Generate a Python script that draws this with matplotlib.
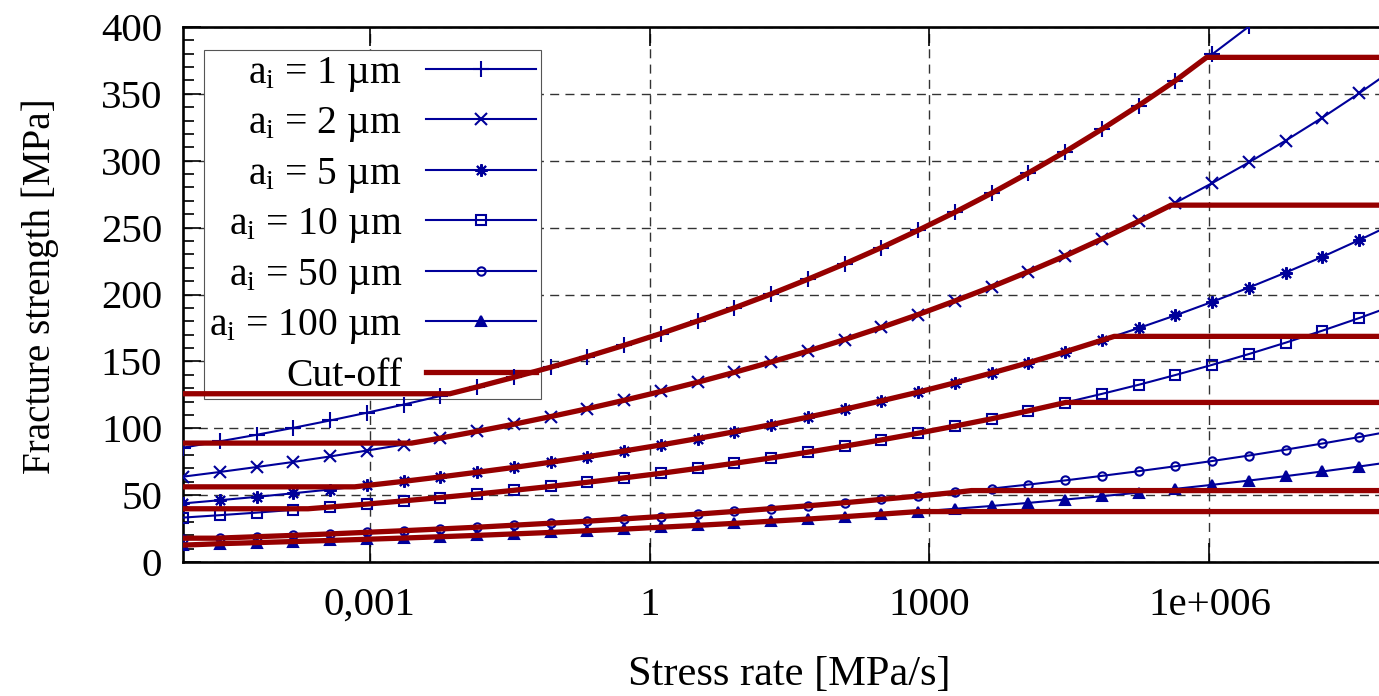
import numpy as np
import matplotlib
matplotlib.use("Agg")
import matplotlib.pyplot as plt
from matplotlib.ticker import FixedLocator, MultipleLocator, NullLocator

plt.rcParams["font.family"] = ["Liberation Serif", "DejaVu Serif"]
plt.rcParams["mathtext.fontset"] = "custom"
plt.rcParams["mathtext.rm"] = "Liberation Serif"
plt.rcParams["mathtext.it"] = "Liberation Serif:italic"
plt.rcParams["font.size"] = 29.5

# log10 of stress rate [MPa/s] at the plotted points
log_rate = [-5.000, -4.606, -4.212, -3.818, -3.424, -3.030, -2.636, -2.242, -1.848, -1.455,
            -1.061, -0.667, -0.273, 0.121, 0.515, 0.909, 1.303, 1.697, 2.091, 2.485,
            2.879, 3.273, 3.667, 4.061, 4.455, 4.848, 5.242, 5.636, 6.030, 6.424,
            6.818, 7.212, 7.606, 8.000]

# fracture strength [MPa] for each initial crack size
s_1um = [85.5, 90.2, 95.1, 100.3, 105.8, 111.6, 117.7, 124.1, 130.9, 138.1,
         145.6, 153.6, 162.0, 170.8, 180.2, 190.0, 200.4, 211.4, 222.9, 235.1,
         248.0, 261.5, 275.8, 290.9, 306.8, 323.6, 341.3, 359.9, 379.6, 400.4]
s_2um = [63.8, 67.3, 71.0, 74.8, 78.9, 83.3, 87.8, 92.6, 97.7, 103.0,
         108.7, 114.6, 120.9, 127.5, 134.4, 141.8, 149.5, 157.7, 166.3, 175.4,
         185.0, 195.2, 205.8, 217.1, 228.9, 241.5, 254.7, 268.6, 283.3, 298.8,
         315.1, 332.3, 350.5, 369.7]
s_5um = [43.8, 46.2, 48.7, 51.4, 54.2, 57.2, 60.3, 63.6, 67.1, 70.7,
         74.6, 78.7, 83.0, 87.5, 92.3, 97.4, 102.7, 108.3, 114.2, 120.5,
         127.0, 134.0, 141.3, 149.0, 157.2, 165.8, 174.9, 184.4, 194.5, 205.2,
         216.4, 228.2, 240.7, 253.8]
s_10um = [33.2, 35.0, 36.9, 39.0, 41.1, 43.3, 45.7, 48.2, 50.8, 53.6,
          56.5, 59.6, 62.9, 66.3, 70.0, 73.8, 77.8, 82.1, 86.6, 91.3,
          96.3, 101.6, 107.1, 113.0, 119.2, 125.7, 132.5, 139.8, 147.4, 155.5,
          164.0, 173.0, 182.4, 192.4]
s_50um = [17.0, 17.9, 18.9, 19.9, 21.0, 22.2, 23.4, 24.7, 26.0, 27.5,
          29.0, 30.5, 32.2, 34.0, 35.8, 37.8, 39.9, 42.0, 44.3, 46.8,
          49.3, 52.0, 54.9, 57.9, 61.0, 64.4, 67.9, 71.6, 75.5, 79.6,
          84.0, 88.6, 93.4, 98.5]
s_100um = [13.0, 13.7, 14.5, 15.3, 16.1, 17.0, 17.9, 18.9, 19.9, 21.0,
           22.1, 23.4, 24.6, 26.0, 27.4, 28.9, 30.5, 32.1, 33.9, 35.8,
           37.7, 39.8, 41.9, 44.2, 46.7, 49.2, 51.9, 54.7, 57.7, 60.9,
           64.2, 67.7, 71.4, 75.3]

labels = [r"a$_\mathrm{i}$ = 1 µm", r"a$_\mathrm{i}$ = 2 µm", r"a$_\mathrm{i}$ = 5 µm",
          r"a$_\mathrm{i}$ = 10 µm", r"a$_\mathrm{i}$ = 50 µm", r"a$_\mathrm{i}$ = 100 µm"]
series = [s_1um, s_2um, s_5um, s_10um, s_50um, s_100um]

# cut-off levels [MPa] and log10 rate where each curve meets them
cut_high = [377.3, 266.8, 168.7, 119.3, 53.4, 37.7]
cut_low = [125.8, 88.9, 56.2, 39.8, 17.8, 12.6]
cross_high = [5.97, 5.59, 4.98, 4.46, 3.45, 2.88]
cross_low = [-2.14, -2.55, -3.16, -3.66, -4.66, None]

xtick_vals = [1e-3, 1, 1e3, 1e6]
xtick_labels = ["0,001", "1", "1000", "1e+006"]

blue = "#00009a"
red = "#960000"
markers = ["+", "x", (8, 2, 0), "s", "o", "^"]
msizes = [11, 8, 9, 6.5, 6, 6.5]
mfaces = [blue, blue, blue, "none", "none", blue]

fig = plt.figure(figsize=(13.79, 6.96), dpi=100)
ax = fig.add_axes([183 / 1379, 134 / 696, 1213 / 1379, 535 / 696])

lmin, lmax = -5.0, 8.0
for i, (y, lab) in enumerate(zip(series, labels)):
    x = 10 ** np.array(log_rate[:len(y)])
    ax.plot(x, y, color=blue, lw=1.5, marker=markers[i], ms=msizes[i],
            mew=1.5, mfc=mfaces[i], mec=blue, label=lab, zorder=3)

for i, y in enumerate(series):
    lx = np.array(log_rate[:len(y)])
    lo = cross_low[i] if cross_low[i] is not None else lmin
    inner = (lx > lo) & (lx < cross_high[i])
    px = [lmin, lo] + list(lx[inner]) + [cross_high[i], lmax]
    py = [cut_low[i], cut_low[i]] + list(np.array(y)[inner]) + [cut_high[i], cut_high[i]]
    ax.plot(10 ** np.array(px), py, color=red, lw=3.8, zorder=4,
            label="Cut-off" if i == 0 else None)

ax.set_xscale("log")
ax.set_xlim(10 ** lmin, 10 ** lmax)
ax.set_ylim(0, 400)
ax.xaxis.set_major_locator(FixedLocator(xtick_vals))
ax.xaxis.set_minor_locator(NullLocator())
ax.set_xticklabels(xtick_labels)
ax.yaxis.set_major_locator(MultipleLocator(50))
ax.yaxis.set_minor_locator(MultipleLocator(10))

ax.tick_params(axis="x", which="major", direction="in", top=True, length=14, width=1.2, pad=18)
ax.tick_params(axis="y", which="major", direction="in", right=False, length=13, width=1.2, pad=15)
ax.tick_params(axis="y", which="minor", direction="in", right=False, length=8, width=1.2)
for side in ["left", "bottom", "top"]:
    ax.spines[side].set_linewidth(1.9)
ax.spines["right"].set_visible(False)

ax.set_axisbelow(True)
ax.grid(True, which="major", ls=(0, (6.5, 4.5)), color="#333333", lw=1.0)

ax.set_xlabel("Stress rate [MPa/s]", fontsize=30.5)
ax.set_ylabel("Fracture strength [MPa]", fontsize=28.2)
ax.xaxis.set_label_coords(0.5, -0.175)
ax.yaxis.set_label_coords(-0.102, 0.516)

leg = ax.legend(loc="upper left", bbox_to_anchor=(0.0173, 0.957), borderaxespad=0,
                markerfirst=False, handlelength=2.8, handletextpad=0.6,
                labelspacing=0.29, borderpad=0.12, fancybox=False, framealpha=1,
                edgecolor="#555555", numpoints=1, fontsize=28.5)
leg.get_frame().set_linewidth(0.8)
leg.set_zorder(2.5)

fig.savefig("out.png", dpi=100)
